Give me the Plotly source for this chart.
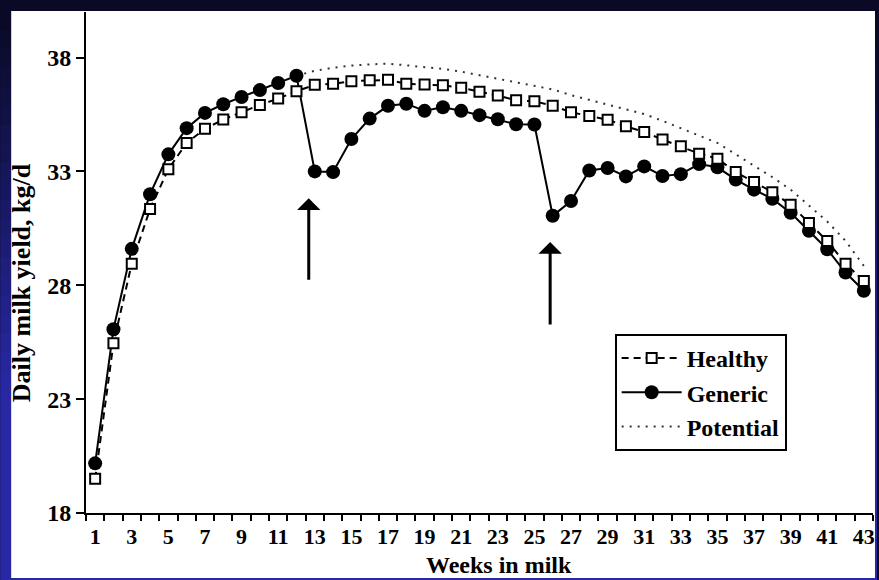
import plotly.graph_objects as go

weeks = list(range(1, 44))
healthy = [19.5, 25.45, 28.95, 31.35, 33.1, 34.25, 34.87, 35.28, 35.6, 35.92,
           36.2, 36.52, 36.8, 36.85, 36.96, 37.0, 37.02, 36.85, 36.82, 36.78,
           36.67, 36.5, 36.33, 36.12, 36.08, 35.88, 35.6, 35.43, 35.27, 34.98,
           34.73, 34.4, 34.1, 33.78, 33.56, 32.97, 32.53, 32.09, 31.54, 30.73,
           29.94, 28.95, 28.19]
generic = [20.18, 26.07, 29.6, 32.0, 33.75, 34.9, 35.57, 35.95, 36.27, 36.57,
           36.88, 37.2, 33.0, 32.97, 34.42, 35.32, 35.88, 35.97, 35.66, 35.82,
           35.66, 35.47, 35.29, 35.07, 35.06, 31.05, 31.7, 33.04, 33.15, 32.78,
           33.22, 32.8, 32.88, 33.32, 33.18, 32.64, 32.2, 31.8, 31.18, 30.39,
           29.58, 28.56, 27.76]
potential_weeks = list(range(12, 44))
potential = [37.2, 37.42, 37.55, 37.65, 37.7, 37.73, 37.66, 37.58, 37.5, 37.38,
             37.22, 37.05, 36.9, 36.75, 36.6, 36.35, 36.15, 35.95, 35.75, 35.52,
             35.22, 34.9, 34.55, 34.25, 33.75, 33.25, 32.75, 32.2, 31.5, 30.8,
             29.95, 28.85]
y_ticks = [18, 23, 28, 33, 38]
x_ticks = list(range(1, 44, 2))
x_minor = [w - 0.5 for w in range(1, 45)]
# arrows: (week, tail value, tip value)
arrows = [(12.67, 28.18, 31.82), (25.86, 26.21, 29.9)]

FONT = "Liberation Serif"
W, H = 879, 580
L, R, T, B = 86, 4, 12, 67
PW, PH = W - L - R, H - T - B


def px_x(p):
    return (p - L) / PW


def px_y(p):
    return (H - B - p) / PH


fig = go.Figure()
fig.add_trace(go.Scatter(
    x=potential_weeks, y=potential, mode="lines", name="Potential",
    line=dict(color="#333333", width=2, dash="2px,6px"), legendrank=3,
    legendgroup="c"))
fig.add_trace(go.Scatter(
    x=weeks, y=generic, mode="lines+markers", name="Generic",
    line=dict(color="black", width=2),
    marker=dict(symbol="circle", size=14, color="black"), legendrank=2,
    legendgroup="b"))
fig.add_trace(go.Scatter(
    x=weeks, y=healthy, mode="lines+markers", name="Healthy",
    line=dict(color="black", width=2, dash="7px,5px"),
    marker=dict(symbol="square", size=10, color="white",
                line=dict(color="black", width=2)), legendrank=1,
    legendgroup="a"))

shapes = []
# dark frame with gradient bands
n = 30
c0 = (10, 10, 38)
c1 = (40, 40, 165)
for i in range(n):
    t = i / (n - 1)
    col = tuple(int(c0[k] + (c1[k] - c0[k]) * min(1, t * 1.5)) for k in range(3))
    y0p = 11 + (H - 11) * i / n
    y1p = 11 + (H - 11) * (i + 1) / n + 1
    shapes.append(dict(type="rect", xref="paper", yref="paper", layer="below",
                       x0=px_x(0), x1=px_x(W), y0=px_y(y1p), y1=px_y(y0p),
                       fillcolor="rgb(%d,%d,%d)" % col, line=dict(width=0)))
shapes.append(dict(type="rect", xref="paper", yref="paper", layer="below",
                   x0=px_x(11), x1=px_x(877), y0=px_y(578), y1=px_y(11),
                   fillcolor="white", line=dict(width=0)))
fig.update_layout(shapes=shapes)

annotations = []
for (wx, tail, tip) in arrows:
    annotations.append(dict(x=wx, y=tip, ax=wx, ay=tail, xref="x", yref="y",
                            axref="x", ayref="y", text="", showarrow=True,
                            arrowhead=1, arrowsize=1.3, arrowwidth=3,
                            arrowcolor="black", standoff=0))
annotations.append(dict(x=px_x(21), y=px_y(283), xref="paper", yref="paper",
                        text="Daily milk yield, kg/d", textangle=-90,
                        showarrow=False, xanchor="center", yanchor="middle",
                        font=dict(family=FONT, size=26, color="black", weight="bold")))
annotations.append(dict(x=px_x(500), y=px_y(565), xref="paper", yref="paper",
                        text="Weeks in milk", showarrow=False,
                        xanchor="center", yanchor="middle",
                        font=dict(family=FONT, size=24, color="black", weight="bold")))
fig.update_layout(annotations=annotations)

fig.update_xaxes(range=[0.5, 43.5], tickvals=x_ticks, ticks="", showgrid=False,
                 zeroline=False, showline=True, linecolor="black", linewidth=2,
                 ticklabelstandoff=3,
                 tickfont=dict(family=FONT, size=22, color="black", weight="bold"),
                 minor=dict(tickvals=x_minor, ticks="outside", ticklen=6,
                            tickwidth=2, tickcolor="black", showgrid=False))
fig.update_yaxes(range=[18, 40], tickvals=y_ticks, ticks="outside", ticklen=8,
                 tickwidth=2, tickcolor="black", showgrid=False, zeroline=False,
                 showline=True, linecolor="black", linewidth=2,
                 tickfont=dict(family=FONT, size=24, color="black", weight="bold"))

fig.update_layout(
    width=W, height=H, margin=dict(l=L, r=R, t=T, b=B),
    paper_bgcolor="rgb(10,10,38)", plot_bgcolor="rgba(0,0,0,0)",
    showlegend=True,
    legend=dict(x=px_x(616), y=px_y(334), xanchor="left", yanchor="top",
                bgcolor="white", bordercolor="black", borderwidth=2,
                itemwidth=60, tracegroupgap=2, traceorder="normal",
                font=dict(family=FONT, size=24, color="black", weight="bold")),
)

fig.write_html("out.html")
